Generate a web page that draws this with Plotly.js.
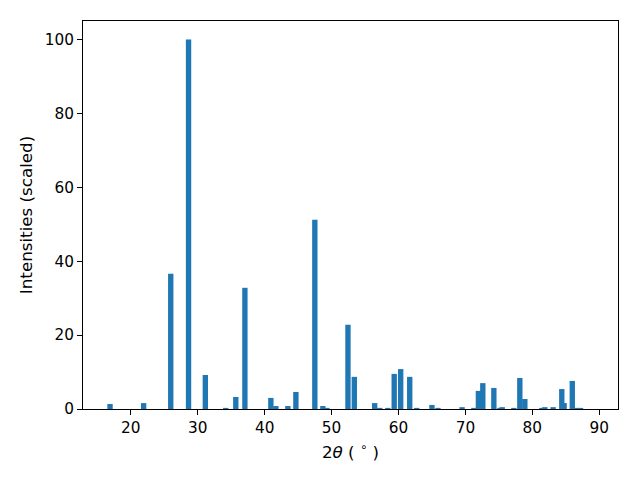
<!DOCTYPE html>
<html>
<head>
<meta charset="utf-8">
<script src="https://cdn.plot.ly/plotly-3.0.1.min.js"></script>
<style>html,body{margin:0;padding:0;background:#fff;}#chart{width:640px;height:480px;}</style>
</head>
<body>
<div id="chart"></div>
<script>
// 2-theta positions (degrees)
var twoTheta = [16.9, 21.92, 25.97, 28.63, 31.14, 34.19, 35.69, 37.05,
  40.93, 41.68, 43.47, 44.67, 47.5, 48.7, 49.3, 52.45, 53.4,
  56.44, 57.2, 58.4, 59.36, 60.33, 61.68, 62.72,
  65.0, 65.9, 69.5, 71.27, 71.94, 72.6, 74.25, 75.17, 75.5, 77.24,
  78.13, 78.88, 81.42, 81.87, 83.1, 84.75, 84.4, 85.97, 86.6, 87.2];
// scaled intensities
var intensities = [1.35, 1.6, 36.6, 100, 9.2, 0.3, 3.25, 32.8,
  3.0, 0.8, 0.8, 4.6, 51.2, 0.8, 0.3, 22.8, 8.7,
  1.6, 0.3, 0.3, 9.5, 10.8, 8.7, 0.3,
  1.1, 0.3, 0.5, 0.3, 4.9, 7.0, 5.7, 0.3, 0.5, 0.3,
  8.4, 2.7, 0.3, 0.5, 0.5, 1.6, 5.4, 7.6, 0.3, 0.3];

var trace = {
  type: 'bar',
  x: twoTheta,
  y: intensities,
  width: 0.8,
  marker: {color: '#1f77b4', line: {width: 0}},
  hoverinfo: 'x+y'
};

var titleFont = {family: 'DejaVu Sans, sans-serif', size: 16.7, color: '#000'};
var tickFont = {family: 'DejaVu Sans, sans-serif', size: 15.3, color: '#000'};

var layout = {
  width: 640, height: 480,
  margin: {l: 83, r: 22, t: 21, b: 71, pad: 0},
  paper_bgcolor: '#fff', plot_bgcolor: '#fff',
  showlegend: false,
  barmode: 'overlay',
  font: tickFont,
  xaxis: {
    range: [12.86, 92.8],
    tickvals: [20, 30, 40, 50, 60, 70, 80, 90],
    ticks: 'outside', ticklen: 5, tickwidth: 1, tickcolor: '#000',
    showline: true, linecolor: '#000', linewidth: 1, mirror: true,
    showgrid: false, zeroline: false,
    tickfont: tickFont,
    title: {text: '2<i>θ</i> ( <sup>∘</sup> )', font: titleFont, standoff: 9}
  },
  yaxis: {
    range: [0, 105],
    tickvals: [0, 20, 40, 60, 80, 100],
    ticks: 'outside', ticklen: 5, tickwidth: 1, tickcolor: '#000',
    showline: true, linecolor: '#000', linewidth: 1, mirror: true,
    showgrid: false, zeroline: false,
    tickfont: tickFont,
    title: {text: 'Intensities (scaled)', font: titleFont, standoff: 7}
  }
};

Plotly.newPlot('chart', [trace], layout, {displayModeBar: false, staticPlot: true});
</script>
</body>
</html>
